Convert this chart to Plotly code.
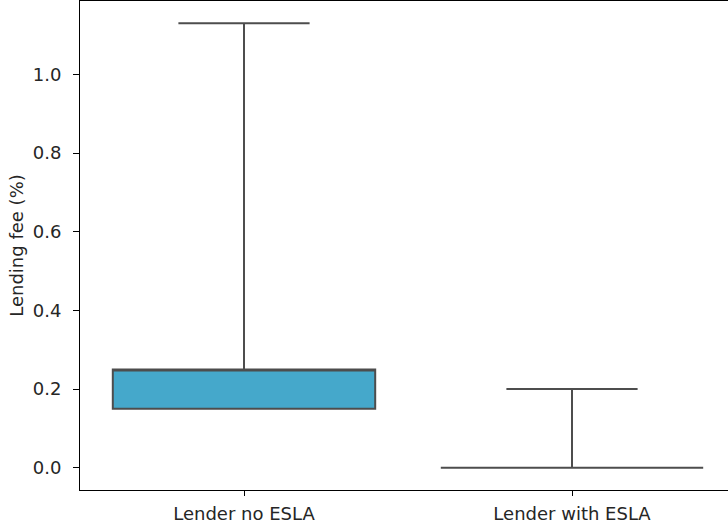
import plotly.graph_objects as go

categories = ["Lender no ESLA", "Lender with ESLA"]
q1 = [0.15, 0.0]
median = [0.25, 0.0]
q3 = [0.25, 0.0]
lower_fence = [0.15, 0.0]
upper_fence = [1.13, 0.20]
y_ticks = [0.0, 0.2, 0.4, 0.6, 0.8, 1.0]

fig = go.Figure()
fig.add_trace(go.Box(
    x=categories,
    q1=q1, median=median, q3=q3,
    lowerfence=lower_fence, upperfence=upper_fence,
    fillcolor="#45a8cb",
    line=dict(color="#4d4d4d", width=2),
    whiskerwidth=0.5,
    boxpoints=False,
    hoverinfo="skip",
    showlegend=False,
))

font = dict(family="DejaVu Sans", size=18, color="#262626")
fig.update_layout(
    width=728, height=523,
    margin=dict(l=80, r=0, t=1, b=33),
    paper_bgcolor="white", plot_bgcolor="white",
    boxgap=0.2, boxgroupgap=0,
    font=font,
    xaxis=dict(
        type="category",
        range=[-0.5, 1.4756],
        showline=True, linecolor="black", linewidth=1, mirror=True,
        ticks="outside", ticklen=5, tickcolor="black",
        showgrid=False, zeroline=False,
        tickfont=font, ticklabelstandoff=2,
    ),
    yaxis=dict(
        range=[-0.0565, 1.1865],
        tickvals=y_ticks, tickformat=".1f",
        showline=True, linecolor="black", linewidth=1, mirror=False,
        ticks="outside", ticklen=6, tickcolor="black",
        showgrid=False, zeroline=False,
        title=dict(text="Lending fee (%)", font=font, standoff=4),
        tickfont=font, ticklabelstandoff=8,
    ),
)

fig.write_html(
    "out.html",
    config={"displayModeBar": False},
    post_script="document.body.style.margin='0';document.body.style.overflow='hidden';",
)
